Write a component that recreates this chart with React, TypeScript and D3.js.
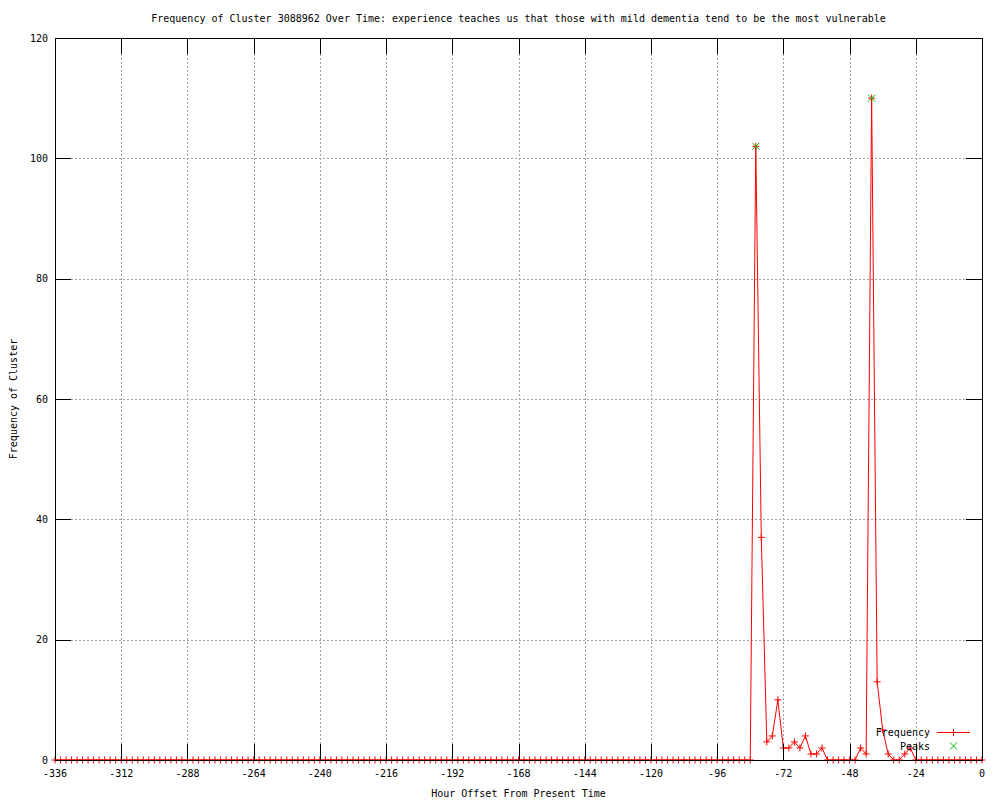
import * as d3 from 'd3'

const TITLE = 'Frequency of Cluster 3088962 Over Time: experience teaches us that those with mild dementia tend to be the most vulnerable'
const X_LABEL = 'Hour Offset From Present Time'
const Y_LABEL = 'Frequency of Cluster'

// hour offsets, every 2 hours from -336 to 0
const hours = d3.range(-336, 1, 2)

// frequency per 2-hour bucket (-336 .. 0)
const frequency = [
  0, 0, 0, 0, 0, 0, 0, 0, 0, 0, 0, 0,   // -336 .. -314
  0, 0, 0, 0, 0, 0, 0, 0, 0, 0, 0, 0,   // -312 .. -290
  0, 0, 0, 0, 0, 0, 0, 0, 0, 0, 0, 0,   // -288 .. -266
  0, 0, 0, 0, 0, 0, 0, 0, 0, 0, 0, 0,   // -264 .. -242
  0, 0, 0, 0, 0, 0, 0, 0, 0, 0, 0, 0,   // -240 .. -218
  0, 0, 0, 0, 0, 0, 0, 0, 0, 0, 0, 0,   // -216 .. -194
  0, 0, 0, 0, 0, 0, 0, 0, 0, 0, 0, 0,   // -192 .. -170
  0, 0, 0, 0, 0, 0, 0, 0, 0, 0, 0, 0,   // -168 .. -146
  0, 0, 0, 0, 0, 0, 0, 0, 0, 0, 0, 0,   // -144 .. -122
  0, 0, 0, 0, 0, 0, 0, 0, 0, 0, 0, 0,   // -120 .. -98
  0, 0, 0, 0, 0, 0, 0, 102, 37, 3, 4, 10, // -96 .. -74
  2, 2, 3, 2, 4, 1, 1, 2, 0, 0, 0, 0,   // -72 .. -50
  0, 0, 2, 1, 110, 13, 5, 1, 0, 0, 1, 2, // -48 .. -26
  0, 0, 0, 0, 0, 0, 0, 0, 0, 0, 0, 0,   // -24 .. -2
  0                                      // 0
]

const peakHours = [-82, -40]
const peakValues = [102, 110]

const xTicks = d3.range(-336, 1, 24)
const yTicks = [0, 20, 40, 60, 80, 100, 120]

const W = 1000
const H = 800
const PLOT = { left: 55, right: 982, top: 38, bottom: 760 }
const TICK = 16
const FONT = '"DejaVu Sans Mono", "Liberation Mono", monospace'
const RED = '#ff0000'
const GREEN = '#00c000'
const GRID = '#a0a0a0'

function plus(x: number, y: number, s = 3.5) {
  return `M${x - s},${y}H${x + s}M${x},${y - s}V${y + s}`
}

function cross(x: number, y: number, s = 3.5) {
  return `M${x - s},${y - s}L${x + s},${y + s}M${x - s},${y + s}L${x + s},${y - s}`
}

export default function App() {
  const x = d3.scaleLinear().domain([-336, 0]).range([PLOT.left, PLOT.right])
  const y = d3.scaleLinear().domain([0, 120]).range([PLOT.bottom, PLOT.top])

  const points = hours.map((h, i) => ({ h, v: frequency[i] }))
  const line = d3.line<{ h: number; v: number }>()
    .x(d => x(d.h))
    .y(d => y(d.v))

  const cx = (PLOT.left + PLOT.right) / 2
  const cy = (PLOT.top + PLOT.bottom) / 2

  return (
    <svg
      width={W}
      height={H}
      style={{ position: 'absolute', left: 0, top: 0, background: '#fff' }}
      fontFamily={FONT}
      fontSize={10}
    >
      <rect width={W} height={H} fill="#fff" />

      {/* grid */}
      <g stroke={GRID} strokeDasharray="2,2" shapeRendering="crispEdges">
        {xTicks.slice(1, -1).map(t => (
          <line key={`gx${t}`} x1={Math.round(x(t)) + 0.5} x2={Math.round(x(t)) + 0.5} y1={PLOT.top} y2={PLOT.bottom} />
        ))}
        {yTicks.slice(1, -1).map(t => (
          <line key={`gy${t}`} x1={PLOT.left} x2={PLOT.right} y1={Math.round(y(t)) + 0.5} y2={Math.round(y(t)) + 0.5} />
        ))}
      </g>

      {/* frequency line + points */}
      <path d={line(points) ?? ''} fill="none" stroke={RED} strokeWidth={1} />
      <path d={points.map(p => plus(x(p.h), y(p.v))).join('')} fill="none" stroke={RED} strokeWidth={1} />

      {/* peaks */}
      <path
        d={peakHours.map((h, i) => cross(x(h), y(peakValues[i]))).join('')}
        fill="none"
        stroke={GREEN}
        strokeWidth={1}
      />

      {/* border and ticks */}
      <g stroke="#000" shapeRendering="crispEdges" fill="none">
        <rect
          x={PLOT.left + 0.5}
          y={PLOT.top + 0.5}
          width={PLOT.right - PLOT.left}
          height={PLOT.bottom - PLOT.top}
        />
        {xTicks.map(t => {
          const px = Math.round(x(t)) + 0.5
          return (
            <g key={`tx${t}`}>
              <line x1={px} x2={px} y1={PLOT.bottom} y2={PLOT.bottom - TICK} />
              <line x1={px} x2={px} y1={PLOT.top} y2={PLOT.top + TICK} />
            </g>
          )
        })}
        {yTicks.map(t => {
          const py = Math.round(y(t)) + 0.5
          return (
            <g key={`ty${t}`}>
              <line x1={PLOT.left} x2={PLOT.left + TICK} y1={py} y2={py} />
              <line x1={PLOT.right} x2={PLOT.right - TICK} y1={py} y2={py} />
            </g>
          )
        })}
      </g>

      {/* tick labels */}
      <g fill="#000">
        {xTicks.map(t => (
          <text key={`lx${t}`} x={x(t)} y={777} textAnchor="middle">
            {t === 0 ? '0' : `\u2212${Math.abs(t)}`.replace('\u2212', '-')}
          </text>
        ))}
        {yTicks.map(t => (
          <text key={`ly${t}`} x={48} y={y(t) + 3.5} textAnchor="end">{t}</text>
        ))}
      </g>

      {/* titles */}
      <text x={cx} y={22} textAnchor="middle">{TITLE}</text>
      <text x={cx} y={797} textAnchor="middle">{X_LABEL}</text>
      <text transform={`translate(17,${cy}) rotate(-90)`} textAnchor="middle">{Y_LABEL}</text>

      {/* legend */}
      <g>
        <text x={930} y={736} textAnchor="end">Frequency</text>
        <line x1={937} x2={970} y1={732.5} y2={732.5} stroke={RED} shapeRendering="crispEdges" />
        <path d={plus(953.5, 732.5)} stroke={RED} />
        <text x={930} y={750} textAnchor="end">Peaks</text>
        <path d={cross(953.5, 746)} stroke={GREEN} />
      </g>
    </svg>
  )
}
